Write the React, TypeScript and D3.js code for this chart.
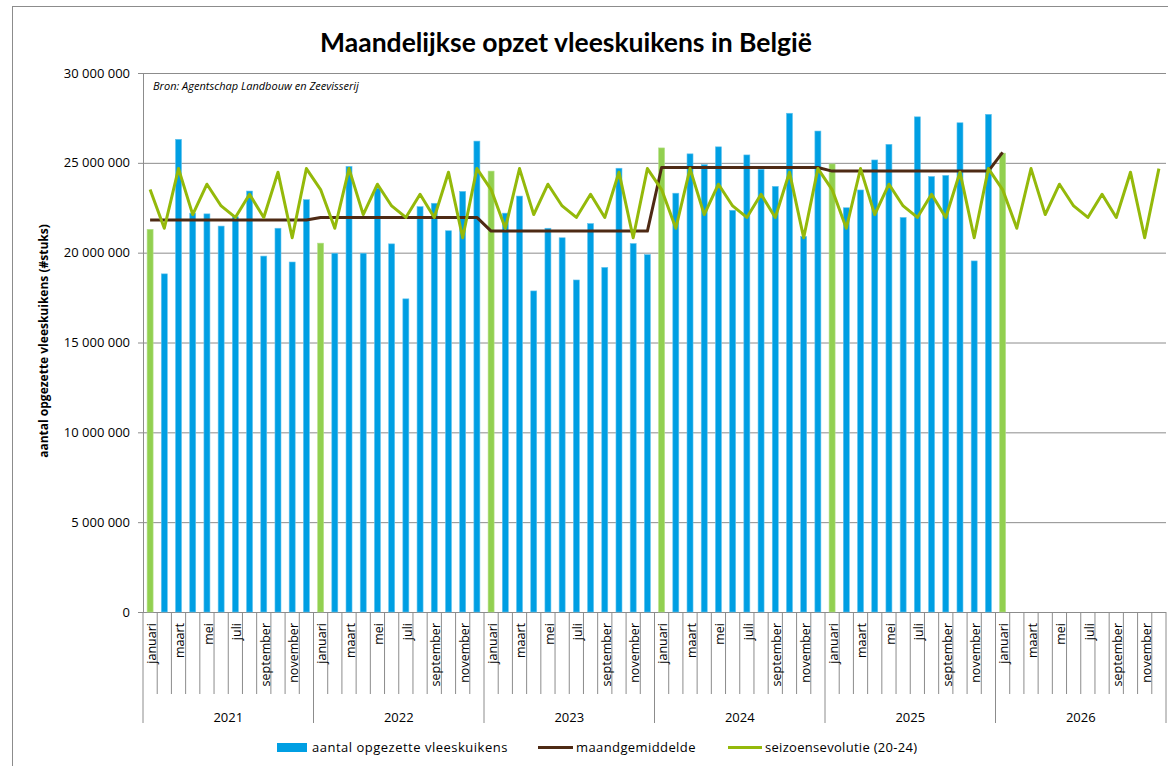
import React from "react";
import * as d3 from "d3";

const months = ["januari","februari","maart","april","mei","juni","juli","augustus","september","oktober","november","december"];
const years = ["2021","2022","2023","2024","2025","2026"];

// aantal opgezette vleeskuikens (miljoen stuks)
const opzet2021 = [21.30, 18.82, 26.31, 22.20, 22.16, 21.48, 22.00, 23.43, 19.81, 21.36, 19.48, 22.95];
const opzet2022 = [20.53, 19.97, 24.80, 19.97, 23.59, 20.49, 17.43, 22.56, 22.75, 21.22, 23.41, 26.21];
const opzet2023 = [24.54, 22.20, 23.15, 17.87, 21.36, 20.83, 18.48, 21.62, 19.18, 24.70, 20.51, 19.89];
const opzet2024 = [25.83, 23.31, 25.50, 24.90, 25.89, 22.36, 25.44, 24.64, 23.69, 27.76, 20.90, 26.77];
const opzet2025 = [24.94, 22.50, 23.49, 25.16, 26.03, 21.96, 27.56, 24.24, 24.30, 27.23, 19.54, 27.70];
const opzet2026 = [25.54];

// maandgemiddelde per jaar (miljoen)
const gemiddelde = [21.82, 21.96, 21.20, 24.74, 24.54, 25.58];

// seizoensevolutie (20-24), miljoen
const seizoen = [23.51, 21.36, 24.68, 22.12, 23.81, 22.60, 21.96, 23.25, 21.96, 24.48, 20.83, 24.68];

const yTicks = [0, 5e6, 10e6, 15e6, 20e6, 25e6, 30e6];

const FONT = "'Open Sans', sans-serif";
const TFONT = "Lato, sans-serif";

export default function App() {
  const W = 1168, H = 766;
  const left = 143, right = 1166, top = 73, bottom = 612;
  const nYears = years.length;
  const idx = d3.range(nYears * 12);
  const x = d3.scaleBand<number>().domain(idx).range([left, right]);
  const y = d3.scaleLinear().domain([0, 30e6]).range([bottom, top]);
  const cx = (i: number) => (x(i) as number) + x.bandwidth() / 2;

  const opzet = [opzet2021, opzet2022, opzet2023, opzet2024, opzet2025, opzet2026];
  const bars: { i: number; v: number; jan: boolean }[] = [];
  opzet.forEach((arr, yi) => arr.forEach((v, m) => bars.push({ i: yi * 12 + m, v: v * 1e6, jan: m === 0 })));

  const avgPts: [number, number][] = [];
  gemiddelde.forEach((v, yi) => {
    const n = yi === nYears - 1 ? opzet2026.length : 12;
    for (let m = 0; m < n; m++) avgPts.push([cx(yi * 12 + m), y(v * 1e6)]);
  });
  const seasPts: [number, number][] = idx.map(i => [cx(i), y(seizoen[i % 12] * 1e6)]);
  const line = d3.line();

  const fmt = (v: number) => d3.format(",")(v).replace(/,/g, " ");
  const bw = 6;

  return (
    <svg width={W} height={H} style={{ position: "fixed", left: 0, top: 0, background: "#fff" }} fontFamily={FONT}>
      <rect x={12.5} y={6.5} width={1200} height={800} fill="#fff" stroke="#8c8c8c" strokeWidth={1} />
      <text x={566} y={52} textAnchor="middle" fontSize={26.5} fontWeight="bold" fill="#000" fontFamily={TFONT}>
        Maandelijkse opzet vleeskuikens in België
      </text>

      {/* gridlines */}
      {yTicks.map(t => (
        <g key={t}>
          <line x1={left - 5} x2={right} y1={y(t) + 0.5} y2={y(t) + 0.5} stroke="#8c8c8c" strokeWidth={1} />
          <text x={130} y={y(t)} dy="0.35em" textAnchor="end" fontSize={13} fill="#000">{fmt(t)}</text>
        </g>
      ))}
      <line x1={left + 0.5} x2={left + 0.5} y1={top} y2={bottom} stroke="#8c8c8c" />

      <text x={153} y={90} fontSize={11} fontStyle="italic" fill="#000">Bron: Agentschap Landbouw en Zeevisserij</text>

      {/* bars */}
      {bars.map(b => (
        <rect key={b.i} x={cx(b.i) - bw / 2} y={y(b.v)} width={bw} height={bottom - y(b.v)}
          fill={b.jan ? "#92D050" : "#009FE3"} stroke={b.jan ? "#b5e08a" : "#63c4ee"} strokeWidth={0.6} />
      ))}

      {/* lines */}
      <path d={line(avgPts) || ""} fill="none" stroke="#4E2A14" strokeWidth={3} strokeLinejoin="round" />
      <path d={line(seasPts) || ""} fill="none" stroke="#94B90A" strokeWidth={3} strokeLinejoin="round" />

      {/* x axis */}
      {d3.range(nYears * 12 + 1).map(k => {
        const xx = left + k * x.step();
        const isYear = k % 12 === 0;
        return <line key={k} x1={xx} x2={xx} y1={bottom} y2={isYear ? 723 : 694} stroke="#8c8c8c" strokeWidth={1} />;
      })}
      {idx.filter(i => i % 2 === 0).map(i => (
        <text key={i} transform={`translate(${cx(i) + 1.5},623) rotate(-90)`} textAnchor="end" dy="0.35em" fontSize={12.5} fill="#000">
          {months[i % 12]}
        </text>
      ))}
      {years.map((yr, yi) => (
        <text key={yr} x={(left + (yi * 12 + 6) * x.step())} y={722} textAnchor="middle" fontSize={13} fill="#000">{yr}</text>
      ))}

      <text transform={`translate(48,${341}) rotate(-90)`} textAnchor="middle" fontSize={12} fontWeight="bold" fill="#000">
        aantal opgezette vleeskuikens  (#stuks)
      </text>

      {/* legend */}
      <rect x={277} y={743} width={30} height={9} fill="#009FE3" />
      <text x={312} y={752} fontSize={13} letterSpacing={0.5} fill="#000">aantal opgezette vleeskuikens</text>
      <line x1={538} x2={573} y1={747.5} y2={747.5} stroke="#4E2A14" strokeWidth={3} />
      <text x={576} y={752} fontSize={13} letterSpacing={0.4} fill="#000">maandgemiddelde</text>
      <line x1={728} x2={762} y1={747.5} y2={747.5} stroke="#94B90A" strokeWidth={3} />
      <text x={765} y={752} fontSize={13} letterSpacing={0.3} fill="#000">seizoensevolutie (20-24)</text>
    </svg>
  );
}
